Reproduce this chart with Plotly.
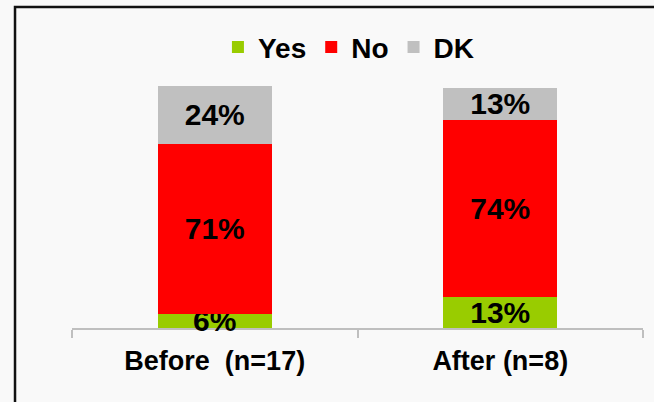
import plotly.graph_objects as go

categories = ["Before\u00a0 (n=17)", "After (n=8)"]
yes_vals = [6, 13]
no_vals = [71, 74]
dk_vals = [24, 13]

series = [
    ("Yes", yes_vals, "#99cc00"),
    ("No", no_vals, "#ff0000"),
    ("DK", dk_vals, "#c0c0c0"),
]

FONT = "Arial, Liberation Sans, sans-serif"

fig = go.Figure()
for name, vals, color in series:
    fig.add_trace(go.Bar(
        x=categories,
        y=vals,
        name=name,
        marker=dict(color=color, line=dict(width=0)),
        text=[f"{v}%" for v in vals],
        textposition="inside",
        insidetextanchor="middle",
        textangle=0,
        textfont=dict(family=FONT, size=30, color="black", weight="bold"),
        cliponaxis=False,
    ))

fig.update_layout(
    barmode="stack",
    bargap=0.6,
    width=654,
    height=402,
    margin=dict(l=72, r=11, t=86, b=74, autoexpand=False),
    paper_bgcolor="#f9f9f9",
    plot_bgcolor="#f9f9f9",
    uniformtext=dict(minsize=30, mode="show"),
    showlegend=True,
    legend=dict(
        orientation="h",
        x=0.485, y=1.16,
        xanchor="center", yanchor="middle",
        traceorder="normal",
        bgcolor="rgba(0,0,0,0)",
        font=dict(family=FONT, size=28, color="black", weight="bold"),
        itemwidth=30,
    ),
    # chart frame, runs off the right and bottom edges like the source
    shapes=[dict(
        type="rect", xref="paper", yref="paper",
        x0=-0.0998, x1=1.5, y0=-0.8, y1=1.3264,
        line=dict(color="#111111", width=2.5),
        layer="below",
    )],
)

fig.update_xaxes(
    automargin=False,
    layer="below traces",
    showline=True,
    linecolor="#bfbfbf",
    linewidth=2,
    ticks="outside",
    tickson="boundaries",
    ticklen=8,
    tickcolor="#bfbfbf",
    tickwidth=2,
    ticklabelstandoff=8,
    tickfont=dict(family=FONT, size=27, color="black", weight="bold"),
    showgrid=False,
)
fig.update_yaxes(
    automargin=False,
    range=[0, 101],
    visible=False,
    showgrid=False,
    zeroline=False,
)

# drop the default page margin so the figure sits at the window corner
fig.write_html(
    "out.html",
    config={"displayModeBar": False},
    post_script="document.body.style.margin='0';",
)
